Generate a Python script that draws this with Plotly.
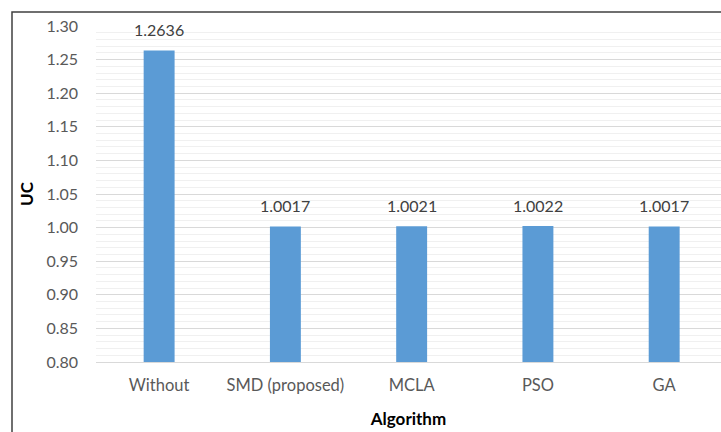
import plotly.graph_objects as go

# Uniformity coefficient for each algorithm
algorithms = ["Without", "SMD (proposed)", "MCLA", "PSO", "GA"]
uc_values = [1.2636, 1.0017, 1.0021, 1.0022, 1.0017]
value_labels = ["1.2636", "1.0017", "1.0021", "1.0022", "1.0017"]
y_ticks = [0.80, 0.85, 0.90, 0.95, 1.00, 1.05, 1.10, 1.15, 1.20, 1.25, 1.30]

FONT = "Lato"
BAR_COLOR = "#5b9bd5"
TICK_COLOR = "#595959"

fig = go.Figure()
fig.add_trace(go.Bar(
    x=algorithms,
    y=uc_values,
    width=0.245,
    marker=dict(color=BAR_COLOR, line=dict(width=0)),
    showlegend=False,
))

# Value labels above each bar
for name, val, lab in zip(algorithms, uc_values, value_labels):
    fig.add_annotation(
        x=name, y=val, text=lab, showarrow=False,
        yanchor="bottom", yshift=9,
        font=dict(family=FONT, size=16, color="#404040"),
    )

# Outer frame (left and top edges)
fig.add_shape(
    type="path", xref="paper", yref="paper",
    path="M -0.1344,-0.3 L -0.1344,1.0417 L 1.2,1.0417",
    line=dict(color="#404040", width=1.5),
)

fig.update_layout(
    width=721, height=432,
    margin=dict(l=96, r=0, t=26, b=70),
    paper_bgcolor="white",
    plot_bgcolor="white",
    bargap=0.755,
    font=dict(family=FONT, size=16, color=TICK_COLOR),
    xaxis=dict(
        range=[-0.5, 4.45],
        showgrid=False,
        showline=True, linecolor="#d9d9d9", linewidth=1,
        ticks="", tickfont=dict(family=FONT, size=16.5, color=TICK_COLOR),
        ticklabelstandoff=8,
        title=dict(text="<b>Algorithm</b>", standoff=19,
                   font=dict(family=FONT, size=17, color="#000000")),
    ),
    yaxis=dict(
        range=[0.80, 1.30],
        tickvals=y_ticks,
        ticktext=[f"{v:.2f}" for v in y_ticks],
        showgrid=True, gridcolor="#d9d9d9", gridwidth=1,
        minor=dict(dtick=0.01, showgrid=True, gridcolor="#f0f0f0", gridwidth=1),
        zeroline=False, showline=False, ticks="",
        tickfont=dict(family=FONT, size=16, color=TICK_COLOR),
        ticklabelstandoff=17,
        title=dict(text="<b>UC</b>", standoff=8,
                   font=dict(family=FONT, size=17, color="#000000")),
    ),
)

fig.write_html("out.html")
